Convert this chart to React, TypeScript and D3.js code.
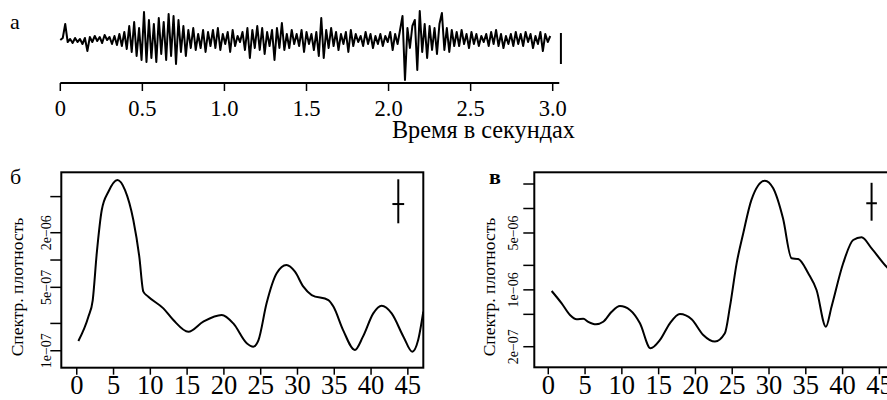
import React from 'react'
import * as d3 from 'd3'

// сейсмограмма: отклонение (усл. ед.) с шагом 0.015 с
const signalStep = 0.015
const signal = [
  0, 2, 16, -2, 1, -3, 2, -2, 1, -4,
  2, -11, 3, -2, 4, -1, 3, -3, 5, 0,
  3, -4, 4, -5, 6, -6, 8, -9, 14, -12,
  18, -16, 12, -20, 28, -22, 20, -18, 16, -22,
  22, -14, 18, -20, 26, -16, 24, -24, 20, -12,
  14, -16, 10, -8, 12, -10, 6, -8, 10, -12,
  8, -6, 10, -8, 12, -10, 6, -4, 8, -12,
  10, -6, 4, -2, 8, -10, 12, -18, 10, -8,
  14, -10, 12, -14, 8, -6, 10, -20, 12, -8,
  17, -10, 6, -8, 10, -4, 6, -6, 10, -12,
  8, -4, 6, -10, 8, -16, 22, -18, 10, -8,
  12, -6, 8, -10, 6, -4, 8, -12, 10, -6,
  6, -2, 4, -6, 8, -4, 6, -8, 4, -4,
  6, -6, 4, -2, 8, -10, 6, -4, 10, 24,
  -40, 12, -8, 14, 20, -30, 29, -12, 16, -18,
  14, -10, 12, -14, 16, 27, -10, 12, -12, 10,
  -6, 8, -6, 10, -4, 6, -8, 8, -4, 6,
  -6, 4, -2, 6, -6, 8, -4, 10, -6, 6,
  -8, 4, -4, 6, -6, 8, -4, 6, -6, 8,
  -2, 6, -8, 4, -4, 8, -11, 6, -2, 4,
]
const timeTicks = [0, 0.5, 1.0, 1.5, 2.0, 2.5, 3.0]
const timeLabels = ['0', '0.5', '1.0', '1.5', '2.0', '2.5', '3.0']

// спектр б
const freqB = [0.22, 1.58, 2.17, 2.72, 3.4, 4.3, 5.52, 6.56, 7.69, 8.5, 9.05, 9.73, 11.77, 13.13, 15.17, 17.2, 19.7, 21.28, 23.1, 24.0, 24.7, 25.8, 27.17, 28.5, 29.66, 30.8, 31.93, 34.2, 34.9, 36.2, 37.8, 38.9, 40.3, 41.44, 42.8, 44.4, 45.6, 46.4, 47.1]
const specB = [1.28e-7, 2.37e-7, 3.6e-7, 1.19e-6, 3.56e-6, 5.66e-6, 7.62e-6, 5.9e-6, 2.76e-6, 1.09e-6, 4.48e-7, 3.94e-7, 2.93e-7, 2.18e-7, 1.62e-7, 2.09e-7, 2.48e-7, 2.0e-7, 1.21e-7, 1.11e-7, 1.31e-7, 3.33e-7, 7.13e-7, 8.81e-7, 7.43e-7, 5.08e-7, 4.11e-7, 3.62e-7, 3.05e-7, 1.69e-7, 1.02e-7, 1.43e-7, 2.58e-7, 3.13e-7, 2.58e-7, 1.43e-7, 9.75e-8, 1.31e-7, 2.69e-7]
const ticksB = [1e-7, 2e-7, 5e-7, 1e-6, 2e-6, 5e-6]
const labelsB = ['1e\u221207', '', '5e\u221207', '', '2e\u221206', '']

// спектр в
const freqV = [0.46, 1.82, 2.95, 3.85, 4.76, 5.43, 6.48, 7.47, 8.61, 9.74, 11.1, 12.46, 13.9, 15.18, 16.53, 17.89, 19.48, 21.06, 22.65, 24.0, 24.69, 25.6, 26.5, 27.6, 29.44, 30.57, 31.9, 33.07, 33.97, 35.33, 36.46, 37.73, 38.5, 40.08, 41.44, 42.58, 43.94, 45.98, 47.3]
const specV = [9.68e-7, 6.82e-7, 4.91e-7, 4.35e-7, 4.4e-7, 4.05e-7, 3.77e-7, 4.05e-7, 5.38e-7, 6.32e-7, 5.65e-7, 3.88e-7, 1.91e-7, 2.42e-7, 3.88e-7, 5.05e-7, 4.35e-7, 2.79e-7, 2.31e-7, 2.92e-7, 6.21e-7, 2.12e-6, 4.96e-6, 1.27e-5, 2.2e-5, 1.77e-5, 7.57e-6, 2.44e-6, 2.4e-6, 1.6e-6, 9.95e-7, 3.52e-7, 6.21e-7, 2.12e-6, 4.1e-6, 4.43e-6, 3.24e-6, 1.92e-6, 1.5e-6]
const ticksV = [2e-7, 5e-7, 1e-6, 2e-6, 5e-6, 1e-5, 2e-5]
const labelsV = ['2e\u221207', '', '1e\u221206', '', '5e\u221206', '', '']

const freqTicks = [0, 5, 10, 15, 20, 25, 30, 35, 40, 45]

// доверительные кресты: [частота, низ, центр, верх, полуширина]
const crossB = [43.7, 2.54e-6, 4.14e-6, 7.76e-6, 0.8]
const crossV = [43.94, 7.08e-6, 1.16e-5, 2.07e-5, 0.72]

const serif = 'Liberation Serif'

function Spectrum({ id, letter, letterX, bold, freq, spec, ticks, labels, cross, xDomain, xRange, yDomain, yRange, tickLabelX, titleX }: any) {
  const x = d3.scaleLinear().domain(xDomain).range(xRange)
  const y = d3.scaleLog().domain(yDomain).range(yRange)
  const line = d3.line<number>()
    .x((_, i) => x(freq[i]))
    .y(d => y(d))
    .curve(d3.curveMonotoneX)
  const [x0, x1] = xRange
  const [yb, yt] = yRange
  return (
    <g>
      <defs>
        <clipPath id={id}>
          <rect x={x0} y={yt} width={x1 - x0} height={yb - yt} />
        </clipPath>
      </defs>
      <text x={letterX} y={184} fontSize={22} fontWeight={bold ? 'bold' : 'normal'} fontFamily={serif}>{letter}</text>
      <path d={line(spec) || ''} fill="none" stroke="#000" strokeWidth={2} clipPath={`url(#${id})`} />
      <line x1={x(cross[0])} x2={x(cross[0])} y1={y(cross[1])} y2={y(cross[3])} stroke="#000" strokeWidth={2} />
      <line x1={x(cross[0] - cross[4])} x2={x(cross[0] + cross[4])} y1={y(cross[2])} y2={y(cross[2])} stroke="#000" strokeWidth={2} />
      <rect x={x0} y={yt} width={x1 - x0} height={yb - yt} fill="none" stroke="#000" strokeWidth={2} />
      {ticks.map((t: number, i: number) => (
        <g key={t}>
          <line x1={x0 - 11} x2={x0} y1={y(t)} y2={y(t)} stroke="#000" strokeWidth={1.5} />
          {labels[i] && (
            <text transform={`translate(${tickLabelX},${y(t)}) rotate(-90)`} textAnchor="middle" fontSize={14} fontFamily={serif}>{labels[i]}</text>
          )}
        </g>
      ))}
      {freqTicks.map(f => (
        <g key={f}>
          <line x1={x(f)} x2={x(f)} y1={yb} y2={yb + 7} stroke="#000" strokeWidth={1.5} />
          <text x={x(f)} y={394} textAnchor="middle" fontSize={26.5} fontFamily={serif}>{f}</text>
        </g>
      ))}
      <text transform={`translate(${titleX},287) rotate(-90)`} textAnchor="middle" fontSize={17.5} fontFamily={serif}>Спектр. плотность</text>
    </g>
  )
}

export default function App() {
  const tx = d3.scaleLinear().domain([0, 3]).range([60.3, 552.7])
  const ty = d3.scaleLinear().domain([-40, 30]).range([80, 10])
  const sigLine = d3.line<number>()
    .x((_, i) => tx(i * signalStep))
    .y(d => ty(d))
  return (
    <svg width={887} height={400} style={{ position: 'absolute', left: 0, top: 0, background: '#fff' }}>
      <rect width={887} height={400} fill="#fff" />
      <text x={10} y={29} fontSize={22} fontFamily={serif}>а</text>
      <path d={sigLine(signal) || ''} fill="none" stroke="#000" strokeWidth={2} strokeLinejoin="round" />
      <line x1={tx(3.05)} x2={tx(3.05)} y1={ty(-24)} y2={ty(7)} stroke="#000" strokeWidth={2} />
      <line x1={tx(0)} x2={tx(3.04)} y1={83} y2={83} stroke="#000" strokeWidth={2} />
      {timeTicks.map((t, i) => (
        <g key={t}>
          <line x1={tx(t)} x2={tx(t)} y1={83} y2={91} stroke="#000" strokeWidth={1.5} />
          <text x={tx(t)} y={116} textAnchor="middle" fontSize={22.5} fontFamily={serif}>{timeLabels[i]}</text>
        </g>
      ))}
      <text x={575} y={138} textAnchor="end" fontSize={24.3} fontFamily={serif}>Время в секундах</text>
      <Spectrum id="clipB" letter="б" letterX={10} freq={freqB} spec={specB} ticks={ticksB} labels={labelsB} cross={crossB}
        xDomain={[-2.1, 47.1]} xRange={[61.3, 423.3]} yDomain={[Math.pow(10, -7.187), Math.pow(10, -5.033)]} yRange={[367.7, 172.3]}
        tickLabelX={50.5} titleX={23} />
      <Spectrum id="clipV" letter="в" letterX={489} bold freq={freqV} spec={specV} ticks={ticksV} labels={labelsV} cross={crossV}
        xDomain={[-1.9, 47.3]} xRange={[534.3, 896.3]} yDomain={[Math.pow(10, -6.952), Math.pow(10, -4.555)]} yRange={[367.3, 172.3]}
        tickLabelX={518} titleX={495} />
    </svg>
  )
}
